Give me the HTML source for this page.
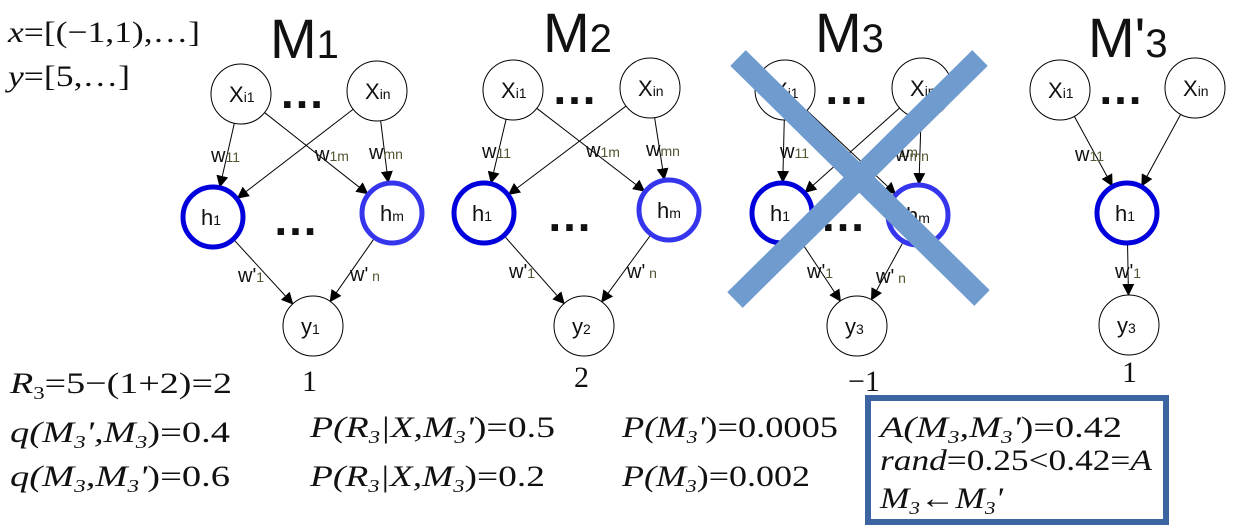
<!DOCTYPE html>
<html><head><meta charset="utf-8"><style>
html,body{margin:0;padding:0;background:#fff;width:1248px;height:530px;overflow:hidden}
svg{display:block}
.m{font-family:"Liberation Serif",serif;font-style:italic;font-size:30px;fill:#111}
.n{font-family:"Liberation Serif",serif;font-size:30px;fill:#111}
.s{font-family:"Liberation Sans",sans-serif;fill:#111}
.title{font-family:"Liberation Sans",sans-serif;font-size:56px;fill:#111}
</style></head><body>
<svg id="c" width="1248" height="530" viewBox="0 0 1248 530" xmlns="http://www.w3.org/2000/svg">
<defs><marker id="ar" markerWidth="12" markerHeight="12" refX="11" refY="6" orient="auto" markerUnits="userSpaceOnUse"><path d="M0,0 L12,6 L0,12 z" fill="#000"/></marker></defs>
<text class="m" x="8" y="42" textLength="192" lengthAdjust="spacingAndGlyphs" font-size="34">x<tspan font-style="normal">=[(−1,1),…]</tspan></text>
<text class="m" x="8" y="86" textLength="122" lengthAdjust="spacingAndGlyphs" font-size="34">y<tspan font-style="normal">=[5,…]</tspan></text>
<g id="nets"></g>
<g stroke="#6f9bcf" stroke-width="22">
<line x1="735" y1="300" x2="980" y2="58"/><line x1="738" y1="58" x2="982" y2="298"/></g>
<text class="n" x="10" y="393" textLength="222" lengthAdjust="spacingAndGlyphs"><tspan font-style="italic">R</tspan><tspan font-size="18" dy="6">3</tspan><tspan dy="-6">=5−(1+2)=2</tspan></text>
<text class="n" x="302" y="391">1</text>
<text class="n" x="574" y="387">2</text>
<text class="n" x="848" y="391">−1</text>
<text class="n" x="1122" y="382">1</text>
<text class="m" x="10" y="442" textLength="220" lengthAdjust="spacingAndGlyphs">q(M<tspan font-size="18" dy="6">3</tspan><tspan dy="-6">',M</tspan><tspan font-size="18" dy="6">3</tspan><tspan dy="-6" font-style="normal">)=0.4</tspan></text>
<text class="m" x="10" y="486" textLength="220" lengthAdjust="spacingAndGlyphs">q(M<tspan font-size="18" dy="6">3</tspan><tspan dy="-6">,M</tspan><tspan font-size="18" dy="6">3</tspan><tspan dy="-6">'</tspan><tspan font-style="normal">)=0.6</tspan></text>
<text class="m" x="310" y="437" textLength="245" lengthAdjust="spacingAndGlyphs">P(R<tspan font-size="18" dy="6">3</tspan><tspan dy="-6">|X,M</tspan><tspan font-size="18" dy="6">3</tspan><tspan dy="-6">'</tspan><tspan font-style="normal">)=0.5</tspan></text>
<text class="m" x="310" y="486" textLength="235" lengthAdjust="spacingAndGlyphs">P(R<tspan font-size="18" dy="6">3</tspan><tspan dy="-6">|X,M</tspan><tspan font-size="18" dy="6">3</tspan><tspan dy="-6" font-style="normal">)=0.2</tspan></text>
<text class="m" x="622" y="437" textLength="216" lengthAdjust="spacingAndGlyphs">P(M<tspan font-size="18" dy="6">3</tspan><tspan dy="-6">'</tspan><tspan font-style="normal">)=0.0005</tspan></text>
<text class="m" x="622" y="486" textLength="188" lengthAdjust="spacingAndGlyphs">P(M<tspan font-size="18" dy="6">3</tspan><tspan dy="-6" font-style="normal">)=0.002</tspan></text>
<g>
<rect x="868" y="398" width="298" height="124" fill="none" stroke="#3a65a0" stroke-width="6"/>
<text class="m" x="880" y="437" textLength="242" lengthAdjust="spacingAndGlyphs">A(M<tspan font-size="18" dy="6">3</tspan><tspan dy="-6">,M</tspan><tspan font-size="18" dy="6">3</tspan><tspan dy="-6">'</tspan><tspan font-style="normal">)=0.42</tspan></text>
<text class="m" x="880" y="470" textLength="272" lengthAdjust="spacingAndGlyphs">rand<tspan font-style="normal">=0.25&lt;0.42=</tspan>A</text>
<text class="m" x="880" y="508" textLength="123" lengthAdjust="spacingAndGlyphs">M<tspan font-size="18" dy="6">3</tspan><tspan dy="-6" font-style="normal" font-weight="bold">←</tspan>M<tspan font-size="18" dy="6">3</tspan><tspan dy="-6">'</tspan></text>
</g>
</svg>
<script>
const modelNames=["M1","M2","M3","M'3"];
const yLabels=["1","2","3","3"];
const ns="http://www.w3.org/2000/svg";
const g=document.getElementById('nets');
const nets=[
 {t:[270,58],xi:[241,94],xn:[377,91],h1:[213,217],hm:[392,213],y:[313,326],full:true},
 {t:[543,52],xi:[513,90],xn:[650,88],h1:[484,213],hm:[669,210],y:[584,326],full:true},
 {t:[815,52],xi:[785,90],xn:[922,88],h1:[782,213],hm:[918,215],y:[857,326],full:true},
 {t:[1088,57],xi:[1060,90],xn:[1195,88],h1:[1127,213],y:[1129,325],full:false}];
function mk(tag,a,txt){const e=document.createElementNS(ns,tag);for(const k in a)e.setAttribute(k,a[k]);if(txt)e.innerHTML=txt;g.appendChild(e);return e;}
function edge(a,b,r1,r2){const dx=b[0]-a[0],dy=b[1]-a[1],L=Math.hypot(dx,dy);
 const e=mk('line',{x1:a[0]+dx/L*r1,y1:a[1]+dy/L*r1,x2:b[0]-dx/L*r2,y2:b[1]-dy/L*r2,stroke:'#000','stroke-width':1,'marker-end':'url(#ar)'});
 
 }
function node(p,lab,sub,stroke,sw,name){const c=mk('circle',{cx:p[0],cy:p[1],r:30,fill:'#fff',stroke:stroke,'stroke-width':sw});
 
 
 mk('text',{x:p[0]-12,y:p[1]+8,class:'s','font-size':22},lab+'<tspan font-size="14">'+sub+'</tspan>');}
function lbl(x,y,t,s){mk('text',{x:x,y:y,class:'s','font-size':20},t+'<tspan font-size="14" fill="#553">'+s+'</tspan>');}
nets.forEach((n,i)=>{
 const t=mk('text',{x:n.t[0],y:n.t[1],class:'title'},modelNames[i].replace(/(\d)$/,'<tspan font-size="40">$1</tspan>'));
 
 
 edge(n.xi,n.h1,30,31);edge(n.xn,n.h1,30,31);
 if(n.full){edge(n.xi,n.hm,30,31);edge(n.xn,n.hm,30,31);edge(n.hm,n.y,31,30);}
 edge(n.h1,n.y,31,30);
 node(n.xi,'X','i1','#000',1,'input-node');node(n.xn,'X','in','#000',1,'input-node');
 node(n.h1,'h','1','#0000dd',5,'hidden-node');
 if(n.full)node(n.hm,'h','m','#3535ee',5,'hidden-node');
 node(n.y,'y',yLabels[i],'#000',1,'output-node');
 const dx=(n.xi[0]+n.xn[0])/2;
 mk('text',{x:dx-30,y:n.xi[1]+14,class:'s','font-size':46,'font-weight':'bold'},'…');
 if(n.full){mk('text',{x:(n.h1[0]+n.hm[0])/2-30,y:n.h1[1]+18,class:'s','font-size':46,'font-weight':'bold'},'…');
  lbl(n.h1[0]-2,n.h1[1]-55,'w','11');lbl(n.h1[0]+102,n.h1[1]-56,'w','1m');lbl(n.hm[0]-23,n.hm[1]-54,'w','mn');
  lbl(n.h1[0]+25,n.h1[1]+65,"w'",'1');lbl(n.hm[0]-42,n.hm[1]+68,"w'",' n');}
 else{lbl(n.xi[0]+15,n.h1[1]-52,'w','11');lbl(n.h1[0]-12,n.h1[1]+65,"w'",'1');}
});
</script>
</body></html>
